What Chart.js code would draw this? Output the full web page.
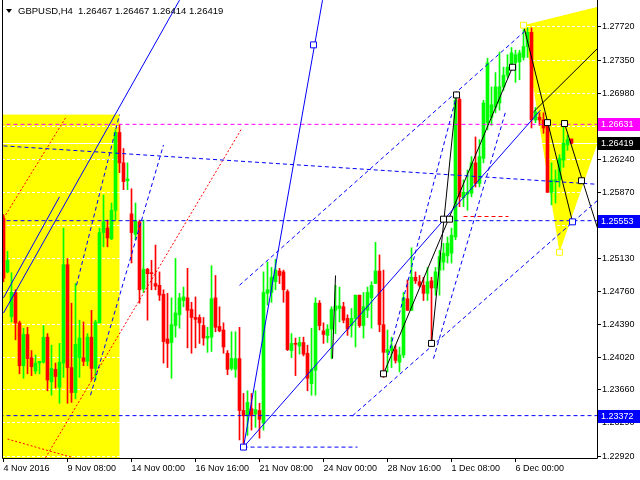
<!DOCTYPE html>
<html>
<head>
<meta charset="utf-8">
<script src="https://cdn.jsdelivr.net/npm/chart.js@4/dist/chart.umd.min.js"></script>
<style>
  html, body { margin: 0; padding: 0; background: #fff; }
  #gbpChart { display: block; }
</style>
</head>
<body>
<canvas id="gbpChart" width="640" height="480"></canvas>
<script>
const symbolTitle = 'GBPUSD,H4';
const lastQuote = [1.26467, 1.26467, 1.26414, 1.26419];

const timeLabels = ['4 Nov 2016', '9 Nov 08:00', '14 Nov 00:00', '16 Nov 16:00', '21 Nov 08:00',
  '24 Nov 00:00', '28 Nov 16:00', '1 Dec 08:00', '6 Dec 00:00'];
const timeTickBars = [0, 16, 32, 48, 64, 80, 96, 112, 128];
const priceTicks = [1.2292, 1.2329, 1.2366, 1.2402, 1.2439, 1.2476, 1.2513, 1.2550,
  1.2587, 1.2624, 1.2661, 1.2698, 1.2735, 1.2772];

// H4 candles, one entry per bar
const open = [
  1.2558, 1.2498, 1.2448, 1.2475, 1.2441, 1.2393, 1.2428, 1.2402, 1.2387, 1.2396,
  1.2397, 1.2425, 1.2375, 1.2389, 1.2369, 1.2396, 1.2506, 1.2391, 1.2363, 1.2402,
  1.2402, 1.2398, 1.2425, 1.2390, 1.2441, 1.2542, 1.2547, 1.2535, 1.2567, 1.2654,
  1.2620, 1.2600, 1.2563, 1.2540, 1.2554, 1.2479, 1.2501, 1.2497, 1.2485, 1.2483,
  1.2473, 1.2423, 1.2419, 1.2438, 1.2450, 1.2466, 1.2469, 1.2456, 1.2447, 1.2447,
  1.2438, 1.2424, 1.2425, 1.2469, 1.2437, 1.2433, 1.2407, 1.2390, 1.2389, 1.2401,
  1.2343, 1.2337, 1.2345, 1.2339, 1.2343, 1.2329, 1.2474, 1.2475, 1.2487, 1.2499,
  1.2498, 1.2476, 1.2410, 1.2418, 1.2415, 1.2419, 1.2407, 1.2373, 1.2388, 1.2463,
  1.2432, 1.2427, 1.2434, 1.2455, 1.2457, 1.2459, 1.2446, 1.2438, 1.2446, 1.2472,
  1.2438, 1.2455, 1.2469, 1.2485, 1.2499, 1.2439, 1.2408, 1.2410, 1.2411, 1.2397,
  1.2405, 1.2468, 1.2455, 1.2492, 1.2487, 1.2483, 1.2474, 1.2488, 1.2480, 1.2500,
  1.2509, 1.2516, 1.2519, 1.2537, 1.2691, 1.2581, 1.2585, 1.2586, 1.2620, 1.2597,
  1.2625, 1.2665, 1.2671, 1.2682, 1.2687, 1.2705, 1.2718, 1.2727, 1.2732, 1.2733,
  1.2738, 1.2750, 1.2766, 1.2668, 1.2671, 1.2668, 1.2665, 1.2587, 1.2599, 1.2601,
  1.2623, 1.2640, 1.26467
];
const high = [
  1.2562, 1.2521, 1.2497, 1.2478, 1.2443, 1.2435, 1.2436, 1.2410, 1.2405, 1.2398,
  1.2438, 1.2429, 1.2416, 1.2396, 1.2418, 1.2547, 1.2513, 1.2463, 1.2485, 1.2444,
  1.2442, 1.2429, 1.2455, 1.2444, 1.2547, 1.2584, 1.2556, 1.2575, 1.2657, 1.2662,
  1.2636, 1.2620, 1.2591, 1.2575, 1.2556, 1.2556, 1.2502, 1.2511, 1.2528, 1.2498,
  1.2478, 1.2474, 1.2469, 1.2513, 1.2474, 1.2481, 1.2502, 1.2464, 1.2470, 1.2450,
  1.2447, 1.2436, 1.2505, 1.2494, 1.2459, 1.2441, 1.2410, 1.2431, 1.2431, 1.2436,
  1.2362, 1.2365, 1.2362, 1.2365, 1.2351, 1.2498, 1.2509, 1.2503, 1.2512, 1.2502,
  1.2500, 1.2478, 1.2429, 1.2424, 1.2425, 1.2425, 1.2416, 1.2435, 1.2469, 1.2466,
  1.2441, 1.2439, 1.2459, 1.2483, 1.2481, 1.2464, 1.2450, 1.2457, 1.2472, 1.2472,
  1.2475, 1.2481, 1.2487, 1.2531, 1.2517, 1.2500, 1.2433, 1.2425, 1.2416, 1.2414,
  1.2475, 1.2489, 1.2525, 1.2498, 1.2494, 1.2492, 1.2503, 1.2492, 1.2503, 1.2522,
  1.2530, 1.2537, 1.2547, 1.2696, 1.2693, 1.2601, 1.2612, 1.2627, 1.2649, 1.2646,
  1.2690, 1.2737, 1.2705, 1.2721, 1.2744, 1.2727, 1.2741, 1.2749, 1.2746, 1.2746,
  1.2769, 1.2771, 1.2771, 1.2682, 1.2676, 1.2676, 1.2666, 1.2620, 1.2612, 1.2629,
  1.2660, 1.2651, 1.26467
];
const low = [
  1.2487, 1.2497, 1.2442, 1.2422, 1.2384, 1.2379, 1.2384, 1.2382, 1.2384, 1.2384,
  1.2396, 1.2365, 1.2360, 1.2368, 1.2351, 1.2380, 1.2351, 1.2352, 1.2356, 1.2380,
  1.2393, 1.2393, 1.2377, 1.2377, 1.2441, 1.2526, 1.2526, 1.2534, 1.2556, 1.2609,
  1.2590, 1.2590, 1.2508, 1.2534, 1.2463, 1.2475, 1.2444, 1.2478, 1.2478, 1.2466,
  1.2396, 1.2391, 1.2379, 1.2425, 1.2435, 1.2459, 1.2413, 1.2407, 1.2413, 1.2418,
  1.2416, 1.2408, 1.2409, 1.2431, 1.2431, 1.2407, 1.2383, 1.2388, 1.2380, 1.2310,
  1.2300, 1.2315, 1.2321, 1.2324, 1.2312, 1.2321, 1.2461, 1.2464, 1.2478, 1.2485,
  1.2464, 1.2410, 1.2402, 1.2382, 1.2406, 1.2404, 1.2365, 1.2360, 1.2360, 1.2433,
  1.2418, 1.2419, 1.2401, 1.2429, 1.2442, 1.2441, 1.2427, 1.2425, 1.2414, 1.2436,
  1.2424, 1.2447, 1.2435, 1.2485, 1.2431, 1.2380, 1.2386, 1.2391, 1.2396, 1.2386,
  1.2402, 1.2455, 1.2455, 1.2485, 1.2481, 1.2466, 1.2466, 1.2422, 1.2472, 1.2472,
  1.2500, 1.2508, 1.2508, 1.2534, 1.2571, 1.2571, 1.2567, 1.2582, 1.2593, 1.2593,
  1.2620, 1.2657, 1.2662, 1.2676, 1.2679, 1.2701, 1.2715, 1.2724, 1.2710, 1.2713,
  1.2735, 1.2738, 1.2659, 1.2665, 1.2662, 1.2653, 1.2587, 1.2573, 1.2575, 1.2593,
  1.2615, 1.2634, 1.26414
];
const close = [
  1.2491, 1.2511, 1.2475, 1.2441, 1.2393, 1.2428, 1.2401, 1.2392, 1.2396, 1.2398,
  1.2425, 1.2377, 1.2390, 1.2381, 1.2397, 1.2506, 1.2391, 1.2363, 1.2417, 1.2424,
  1.2398, 1.2425, 1.2390, 1.2442, 1.2542, 1.2554, 1.2536, 1.2567, 1.2654, 1.2620,
  1.2599, 1.2602, 1.2542, 1.2555, 1.2478, 1.2501, 1.2496, 1.2496, 1.2482, 1.2472,
  1.2420, 1.2418, 1.2439, 1.2452, 1.2469, 1.2470, 1.2455, 1.2447, 1.2445, 1.2441,
  1.2424, 1.2426, 1.2468, 1.2436, 1.2432, 1.2414, 1.2389, 1.2401, 1.2401, 1.2343,
  1.2337, 1.2352, 1.2337, 1.2344, 1.2333, 1.2475, 1.2478, 1.2492, 1.2500, 1.2494,
  1.2478, 1.2411, 1.2418, 1.2417, 1.2419, 1.2406, 1.2379, 1.2389, 1.2463, 1.2438,
  1.2428, 1.2434, 1.2456, 1.2460, 1.2460, 1.2444, 1.2434, 1.2446, 1.2472, 1.2438,
  1.2459, 1.2475, 1.2483, 1.2499, 1.2439, 1.2408, 1.2411, 1.2415, 1.2399, 1.2405,
  1.2469, 1.2455, 1.2492, 1.2488, 1.2483, 1.2474, 1.2487, 1.2480, 1.2498, 1.2515,
  1.2519, 1.2530, 1.2539, 1.2690, 1.2582, 1.2587, 1.2587, 1.2620, 1.2597, 1.2627,
  1.2687, 1.2732, 1.2685, 1.2705, 1.2705, 1.2718, 1.2727, 1.2743, 1.2741, 1.2743,
  1.2750, 1.2766, 1.2668, 1.2677, 1.2668, 1.2659, 1.2587, 1.2601, 1.2601, 1.2625,
  1.2642, 1.2646, 1.26419
];

// horizontal levels
const levelMagenta = 1.26631;
const levelBlueUpper = 1.25553;
const levelBlueLower = 1.23372;

// drawn objects: [bar1, price1, bar2, price2]
const blueSolidLines = [
  [0, 1.2452, 44, 1.2802],
  [0, 1.2469, 14, 1.2582],
  [60, 1.2302, 134.25, 1.2679],
  [60, 1.2302, 79.75, 1.2802]
];
const blueDashedLines = [
  [-1, levelBlueUpper, 149, levelBlueUpper],
  [-1, levelBlueLower, 149, levelBlueLower],
  [0, 1.2639, 148.5, 1.2596],
  [18.25, 1.2483, 29, 1.2674],
  [21.75, 1.2360, 40, 1.2640],
  [59, 1.2483, 131, 1.2770],
  [87.25, 1.2337, 148.5, 1.2578],
  [60, 1.2302, 88.5, 1.2302],
  [96.25, 1.2405, 113.5, 1.2699],
  [107.5, 1.2401, 125.5, 1.2677]
];
const magentaLines = [[-1, levelMagenta, 149, levelMagenta]];
const blackLines = [
  [95, 1.2384, 127.25, 1.2727],
  [107, 1.2418, 113.25, 1.2696],
  [83, 1.2494, 82.25, 1.2401],
  [130, 1.2774, 142.25, 1.2554],
  [140.25, 1.2664, 148.5, 1.2547],
  [132.5, 1.2677, 148.5, 1.2748]
];
const redDottedLines = [
  [0, 1.2558, 15.75, 1.2672],
  [10.5, 1.2290, 59.5, 1.2658],
  [1, 1.2311, 17.5, 1.2290]
];
const redDashedLines = [[115, 1.2560, 126.25, 1.2560]];

// anchor squares [bar, price]
const blackAnchors = [[95, 1.2384], [107, 1.2418], [110, 1.2557], [111.5, 1.2557], [113.25, 1.2696],
  [127.25, 1.2727], [136, 1.2665], [140.25, 1.2664], [144.5, 1.2600]];
const blueAnchors = [[77.5, 1.2752], [60, 1.2302], [142.25, 1.2554]];
const yellowAnchors = [[130, 1.2774], [139, 1.2520]];

// yellow zones
const leftZone = [-1, 29, 1.2674, 1.2200];
const rightTriangle = [[130, 1.2774], [161.5, 1.2809], [139, 1.2520]];

const upColor = '#00ff00';
const downColor = '#ff0000';
const uiFont = '"Liberation Sans", Arial, sans-serif';

const barIndex = open.map((_, i) => i);
const candleColor = barIndex.map(i => close[i] >= open[i] ? upColor : downColor);

function lineSets(list, color, dash) {
  return list.map(s => ({
    type: 'line',
    data: [{x: s[0], y: s[1]}, {x: s[2], y: s[3]}],
    borderColor: color,
    borderWidth: 1,
    borderDash: dash,
    pointRadius: 0,
    fill: false,
    tension: 0,
    order: 5
  }));
}

function anchorSet(list, border) {
  return {
    type: 'scatter',
    data: list.map(p => ({x: p[0], y: p[1]})),
    pointStyle: 'rect',
    pointRadius: 4.2,
    pointBackgroundColor: '#ffffff',
    pointBorderColor: border,
    pointBorderWidth: 1,
    order: 1
  };
}

const mtOverlay = {
  id: 'mtOverlay',
  beforeDraw(chart) {
    const {ctx, chartArea: a, scales: {x, y}} = chart;
    ctx.save();
    ctx.fillStyle = '#ffffff';
    ctx.fillRect(0, 0, chart.width, chart.height);
    ctx.beginPath();
    ctx.rect(a.left, a.top, a.right - a.left, a.bottom - a.top);
    ctx.clip();
    ctx.fillStyle = '#ffff00';
    const zx1 = x.getPixelForValue(leftZone[0]);
    const zx2 = x.getPixelForValue(leftZone[1]);
    const zy1 = y.getPixelForValue(leftZone[2]);
    const zy2 = y.getPixelForValue(leftZone[3]);
    ctx.fillRect(zx1, zy1, zx2 - zx1, zy2 - zy1);
    ctx.beginPath();
    rightTriangle.forEach((p, k) => {
      const px = x.getPixelForValue(p[0]);
      const py = y.getPixelForValue(p[1]);
      if (k === 0) ctx.moveTo(px, py); else ctx.lineTo(px, py);
    });
    ctx.closePath();
    ctx.fill();
    ctx.restore();
  },
  beforeDatasetsDraw(chart) {
    // bid line, only shows on the yellow areas
    const {ctx, chartArea: a, scales: {y}} = chart;
    const py = Math.round(y.getPixelForValue(lastQuote[3])) + 0.5;
    ctx.save();
    ctx.strokeStyle = '#ffffff';
    ctx.lineWidth = 1;
    ctx.beginPath();
    ctx.moveTo(a.left, py);
    ctx.lineTo(a.right, py);
    ctx.stroke();
    ctx.restore();
  },
  afterDraw(chart) {
    const {ctx, chartArea: a, scales: {y}} = chart;
    ctx.save();
    // frame
    ctx.strokeStyle = '#000000';
    ctx.lineWidth = 1;
    ctx.beginPath();
    ctx.moveTo(a.left + 0.5, a.top);
    ctx.lineTo(a.left + 0.5, a.bottom + 0.5);
    ctx.lineTo(a.right + 0.5, a.bottom + 0.5);
    ctx.lineTo(a.right + 0.5, a.top);
    ctx.stroke();

    // price tags on the right axis
    ctx.font = '9px ' + uiFont;
    ctx.textBaseline = 'middle';
    ctx.textAlign = 'left';
    const tags = [[levelMagenta, '#ff00ff'], [lastQuote[3], '#000000'],
      [levelBlueUpper, '#0000ff'], [levelBlueLower, '#0000ff']];
    tags.forEach(([v, c]) => {
      const py = Math.round(y.getPixelForValue(v));
      ctx.fillStyle = c;
      ctx.fillRect(a.right + 1, py - 6, chart.width - a.right - 1, 13);
      ctx.fillStyle = '#ffffff';
      ctx.fillText(v.toFixed(5), a.right + 4, py + 0.5);
    });

    // header
    ctx.fillStyle = '#000000';
    ctx.beginPath();
    ctx.moveTo(6, 9);
    ctx.lineTo(12, 9);
    ctx.lineTo(9, 13);
    ctx.closePath();
    ctx.fill();
    ctx.font = '9.5px ' + uiFont;
    ctx.fillText(symbolTitle, 18, 11);
    ctx.fillText(lastQuote.map(v => v.toFixed(5)).join(' '), 78, 11);
    ctx.restore();
  }
};

const ctx = document.getElementById('gbpChart').getContext('2d');

const datasets = [
  {
    type: 'bar',
    data: barIndex.map(i => ({x: i, y: [low[i], high[i]]})),
    backgroundColor: candleColor,
    barThickness: 1,
    grouped: false,
    order: 20
  },
  {
    type: 'bar',
    data: barIndex.map(i => ({x: i, y: [open[i], close[i]]})),
    backgroundColor: candleColor,
    barThickness: 3,
    minBarLength: 1,
    grouped: false,
    order: 19
  },
  ...lineSets(blueSolidLines, '#0000ff', []),
  ...lineSets(blueDashedLines, '#0000ff', [4, 3]),
  ...lineSets(magentaLines, '#ff00ff', [4, 3]),
  ...lineSets(redDottedLines, '#ff0000', [2, 2]),
  ...lineSets(redDashedLines, '#ff0000', [4, 3]),
  ...lineSets(blackLines, '#000000', []),
  anchorSet(blackAnchors, '#000000'),
  anchorSet(blueAnchors, '#0000ff'),
  anchorSet(yellowAnchors, '#ffff00')
];

const chart = new Chart(ctx, {
  type: 'bar',
  data: { datasets },
  options: {
    responsive: false,
    animation: false,
    devicePixelRatio: 1,
    layout: { autoPadding: false, padding: { left: 2, top: 0, right: 0, bottom: 0 } },
    plugins: {
      legend: { display: false },
      tooltip: { enabled: false }
    },
    scales: {
      x: {
        type: 'linear',
        min: -0.375,
        max: 148.375,
        offset: false,
        afterBuildTicks: scale => { scale.ticks = timeTickBars.map(v => ({ value: v })); },
        afterFit: scale => {
          scale.height = 22;
          scale.paddingLeft = 0;
          scale.paddingRight = 0;
        },
        ticks: {
          autoSkip: false,
          maxRotation: 0,
          align: 'start',
          padding: 1,
          color: '#000000',
          font: { size: 9, family: uiFont },
          callback: v => timeLabels[timeTickBars.indexOf(v)]
        },
        grid: {
          offset: false,
          drawOnChartArea: false,
          drawTicks: true,
          tickLength: 4,
          tickColor: '#000000'
        },
        border: { display: false }
      },
      y: {
        type: 'linear',
        position: 'right',
        min: 1.22898,
        max: 1.28022,
        afterBuildTicks: scale => { scale.ticks = priceTicks.map(v => ({ value: v })); },
        afterFit: scale => {
          scale.width = 43;
          scale.paddingTop = 0;
          scale.paddingBottom = 0;
        },
        ticks: {
          autoSkip: false,
          padding: 1,
          color: '#000000',
          font: { size: 9, family: uiFont, lineHeight: 0.1 },
          callback: v => v.toFixed(5)
        },
        grid: {
          color: '#ffffff',
          lineWidth: 1,
          drawTicks: true,
          tickLength: 4,
          tickColor: '#000000',
          tickBorderDash: []
        },
        border: { display: false, dash: [3, 2] }
      }
    }
  },
  plugins: [mtOverlay]
});
</script>
</body>
</html>
